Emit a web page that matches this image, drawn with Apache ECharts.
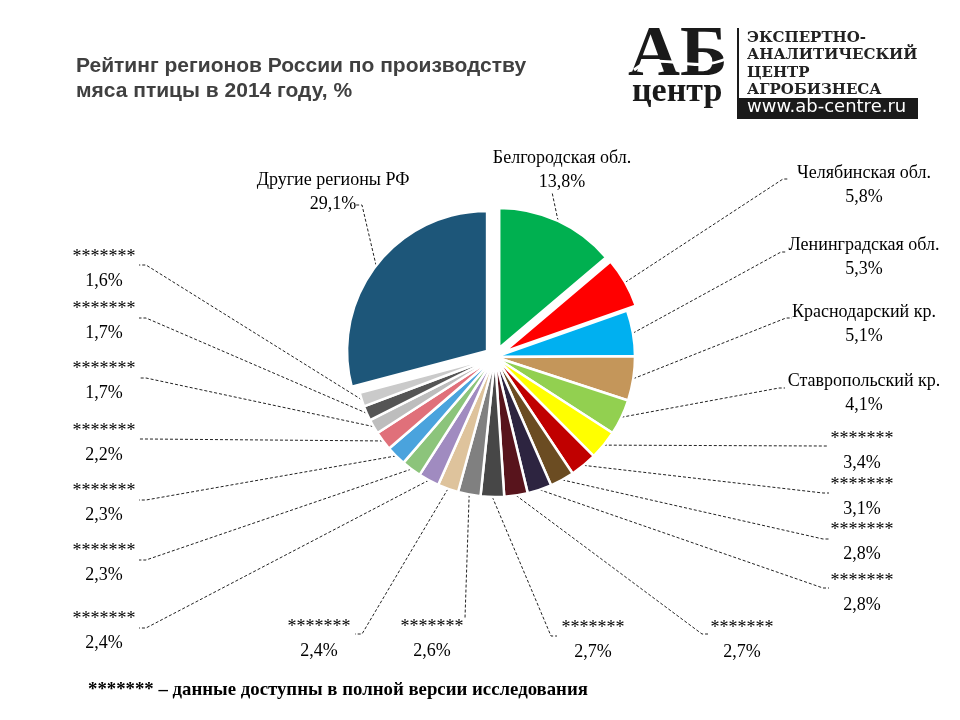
<!DOCTYPE html>
<html><head><meta charset="utf-8">
<script src="https://cdn.jsdelivr.net/npm/echarts@6/dist/echarts.min.js"></script>
<style>html,body{margin:0;padding:0;background:#fff}#c{width:960px;height:720px}</style>
</head><body><div id="c"></div>
<script>
const regions = ['Белгородская обл.','Челябинская обл.','Ленинградская обл.','Краснодарский кр.','Ставропольский кр.',
  '*******','*******','*******','*******','*******','*******','*******','*******','*******','*******','*******','*******','*******','*******','*******',
  'Другие регионы РФ'];
const shares = [13.8,5.8,5.3,5.1,4.1,3.4,3.1,2.8,2.8,2.7,2.7,2.6,2.4,2.4,2.3,2.3,2.2,1.7,1.7,1.6,29.1];
const colors = ['#00B050','#FF0000','#00B0F0','#C4965A','#92D050','#FFFF00','#C00000','#6B4C22','#2D2440','#58141C',
  '#474747','#808080','#DEC39C','#A08BC0','#8CC47B','#4AA3DD','#E0707A','#BDBDBD','#555555','#CACACA','#1D5679'];
const exploded = [true,true,false,false,false,false,false,false,false,false,false,false,false,false,false,false,false,false,false,false,true];
// label layout (pixels): [centerX, centerY, lineEndX, lineEndY, tick]
const labelSpots = [
  [562,170,552,192,0],
  [864,185,789,179,-6],
  [864,257,787,252,-6],
  [864,324,792,318,-6],
  [864,393,785,388,-6],
  [862,451,828,446,-6],
  [862,497,829,493,-6],
  [862,542,829,539,-6],
  [862,593,829,588,-6],
  [742,640,708,634,-6],
  [593,640,557,636,-6],
  [432,639,465,618,0],
  [319,639,355,634,7],
  [104,631,139,628,7],
  [104,563,139,560,7],
  [104,503,139,500,7],
  [104,443,139,439,7],
  [104,381,139,378,7],
  [104,321,139,318,7],
  [104,269,139,265,7],
  [333,192,355,205,7]
];
const pieCenter = [495,357];
const pieRadius = 140;
const explodeOffset = 10;

const chart = echarts.init(document.getElementById('c'), null, {renderer:'canvas'});
chart.setOption({
  backgroundColor:'#fff',
  animation:false,
  title:{
    text:'Рейтинг регионов России по производству\nмяса птицы в 2014 году, %',
    left:71, top:49,
    textStyle:{fontFamily:'Liberation Sans, Arial', fontWeight:'bold', fontSize:21, lineHeight:25, color:'#404040'}
  },
  graphic:[
    {type:'text', x:628, y:20, style:{text:'АБ', fontFamily:'Liberation Serif', fontWeight:'bold', fontSize:72, fill:'#1a1a1a'}},
    {type:'bezierCurve', shape:{x1:634, y1:70, cpx1:660, cpy1:48, cpx2:690, cpy2:76, x2:728, y2:58}, style:{stroke:'#fff', lineWidth:3, fill:null}},
    {type:'text', x:632, y:75, style:{text:'центр', fontFamily:'Liberation Serif', fontWeight:'bold', fontSize:34, fill:'#1a1a1a'}},
    {type:'line', shape:{x1:738, y1:28, x2:738, y2:118}, style:{stroke:'#1a1a1a', lineWidth:2}},
    {type:'text', x:747, y:29, style:{text:'ЭКСПЕРТНО-\nАНАЛИТИЧЕСКИЙ\nЦЕНТР\nАГРОБИЗНЕСА', fontFamily:'DejaVu Serif', fontWeight:'bold', fontSize:15, lineHeight:17.5, fill:'#222'}},
    {type:'rect', shape:{x:737, y:98, width:181, height:21}, style:{fill:'#1a1a1a'}},
    {type:'text', x:747, y:98, style:{text:'www.ab-centre.ru', fontFamily:'DejaVu Sans', fontSize:18, fill:'#fff'}},
    {type:'text', x:88, y:681, style:{text:'******* – данные доступны в полной версии исследования', fontFamily:'Liberation Serif', fontWeight:'bold', fontSize:18.8, fill:'#000'}}
  ],
  series:[{
    type:'pie',
    center:pieCenter,
    radius:pieRadius,
    startAngle:90,
    clockwise:true,
    selectedMode:'multiple',
    selectedOffset:explodeOffset,
    itemStyle:{borderColor:'#fff', borderWidth:2.5},
    emphasis:{disabled:true},
    label:{show:false},
    labelLine:{show:false},
    data:shares.map((v,i)=>({name:regions[i], value:v, selected:exploded[i], itemStyle:{color:colors[i]}}))
  },{
    type:'pie',
    center:pieCenter,
    radius:pieRadius,
    startAngle:90,
    clockwise:true,
    silent:true,
    selectedMode:false,
    avoidLabelOverlap:false,
    itemStyle:{color:'rgba(0,0,0,0)', borderWidth:0},
    emphasis:{disabled:true},
    label:{
      show:true, position:'outside',
      fontFamily:'Liberation Serif, Times New Roman', fontSize:18, lineHeight:24, color:'#000', align:'center',
      formatter:p => p.name + '\n' + String(p.value).replace('.', ',') + '%'
    },
    labelLine:{show:true, length:10, length2:10, lineStyle:{type:[3,2], color:'#222', width:1}},
    labelLayout:function(params){
      const i = params.dataIndex;
      const s = labelSpots[i];
      let p0 = params.labelLinePoints[0];
      if (exploded[i]) {
        const vx = p0[0]-pieCenter[0], vy = p0[1]-pieCenter[1];
        const len = Math.sqrt(vx*vx+vy*vy) || 1;
        p0 = [p0[0]+vx/len*explodeOffset, p0[1]+vy/len*explodeOffset];
      }
      return {x:s[0], y:s[1], align:'center', verticalAlign:'middle',
        labelLinePoints:[[p0[0],p0[1]],[s[2]+s[4], s[3]],[s[2], s[3]]]};
    },
    data:shares.map((v,i)=>({name:regions[i], value:v}))
  }]
});
</script></body></html>
